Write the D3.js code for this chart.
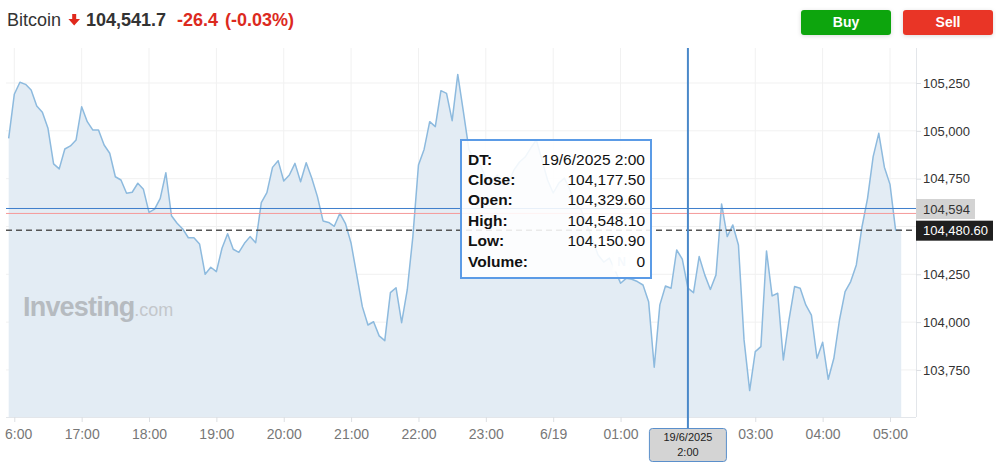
<!DOCTYPE html>
<html><head><meta charset="utf-8">
<script src="https://cdn.jsdelivr.net/npm/d3@7"></script>
<style>
body{margin:0;background:#fff;}
svg{display:block;font-family:"Liberation Sans",Arial,Helvetica,sans-serif;}
</style>
</head><body>
<svg id="c" width="996" height="473"></svg>
<script>
// ---- data ----
const instrument = "Bitcoin";
const lastPriceText = "104,541.7";
const changeText = "-26.4";
const changePctText = "(-0.03%)";
const startTime = new Date(2025, 5, 18, 15, 55);
const stepMinutes = 5;
const closes = [
 104961,105191,105254,105243,105213,105130,105097,105013,104827,104801,
 104905,104921,104952,105126,105048,105004,105004,104926,104883,104760,
 104743,104674,104679,104726,104694,104574,104591,104647,104781,104556,
 104517,104487,104441,104441,104409,104250,104287,104264,104386,104462,
 104381,104365,104412,104447,104415,104625,104677,104809,104844,104738,
 104769,104830,104734,104833,104752,104656,104529,104521,104501,104569,
 104515,104412,104247,104081,103985,104002,103928,103903,104154,104180,
 103997,104168,104447,104821,104903,105048,105022,105210,105196,105053,
 105295,105100,104900,104848,104821,104753,104733,104769,104717,104727,
 104795,104837,104863,104910,104952,104848,104743,104675,104727,104753,
 104691,104612,104586,104508,104429,104351,104314,104335,104273,104203,
 104229,104224,104212,104194,104107,103764,104090,104189,104177,104377,
 104329.6,104177.5,104154,104343,104247,104171,104247,104618,104447,104508,
 104403,103907,103642,103846,103872,104372,104137,104151,103802,104011,
 104186,104177,104090,104037,103811,103895,103701,103811,104011,104159,
 104212,104299,104496,104647,104865,104987,104810,104720,104481,104480.6
];
const xTickTimes = [
 new Date(2025,5,18,16), new Date(2025,5,18,17), new Date(2025,5,18,18), new Date(2025,5,18,19),
 new Date(2025,5,18,20), new Date(2025,5,18,21), new Date(2025,5,18,22), new Date(2025,5,18,23),
 new Date(2025,5,19,0), new Date(2025,5,19,1), new Date(2025,5,19,2), new Date(2025,5,19,3),
 new Date(2025,5,19,4), new Date(2025,5,19,5)
];
// "02:00" is covered by the crosshair date box in the original, so it is left blank
const xTickLabels = ["16:00","17:00","18:00","19:00","20:00","21:00","22:00","23:00","6/19","01:00","","03:00","04:00","05:00"];
const yTicks = [103750,104000,104250,104500,104750,105000,105250];
// 104,500 is covered by the last-price box in the original
const yTickLabels = ["103,750","104,000","104,250","","104,750","105,000","105,250"];
const bidLine = 104594;
const bidLabel = "104,594";
const prevCloseLine = 104568.1;
const lastCloseLine = 104480.6;
const lastCloseLabel = "104,480.60";
const crosshairTime = new Date(2025,5,19,2,0);
const crosshairLabel = ["19/6/2025","2:00"];
const tooltipLabels = ["DT:","Close:","Open:","High:","Low:","Volume:"];
const tooltipValues = ["19/6/2025 2:00","104,177.50","104,329.60","104,548.10","104,150.90","0"];

// ---- build ----
const svg = d3.select("#c");
const data = closes.map((v,i)=>({t:new Date(startTime.getTime()+i*stepMinutes*60000), v}));

const plotL = 6, plotR = 916, plotT = 48, plotB = 417;
const x = d3.scaleTime().domain([xTickTimes[0], xTickTimes[xTickTimes.length-1]]).range([14.3, 890]);
const y = d3.scaleLinear().domain([103504, 105433]).range([plotB, plotT]);

const defs = svg.append("defs");
const f = defs.append("filter").attr("id","sh").attr("x","-20%").attr("y","-40%").attr("width","140%").attr("height","180%");
f.append("feDropShadow").attr("dx",0).attr("dy",1).attr("stdDeviation",2).attr("flood-color","#000").attr("flood-opacity",0.15);
defs.append("clipPath").attr("id","xclip").append("rect").attr("x",5).attr("y",-10).attr("width",991).attr("height",473);

// grid
svg.append("g").selectAll("line").data(yTicks).join("line")
  .attr("x1",plotL).attr("x2",plotR).attr("y1",d=>y(d)).attr("y2",d=>y(d))
  .attr("stroke","#f1f1f1").attr("stroke-width",1);
svg.append("g").selectAll("line").data(xTickTimes).join("line")
  .attr("x1",d=>x(d)).attr("x2",d=>x(d)).attr("y1",plotT).attr("y2",plotB)
  .attr("stroke","#f1f1f1").attr("stroke-width",1);

// area + line
svg.append("path").datum(data)
  .attr("d", d3.area().x(d=>x(d.t)).y0(plotB).y1(d=>y(d.v)))
  .attr("fill","#e3ecf4");
svg.append("path").datum(data)
  .attr("d", d3.line().x(d=>x(d.t)).y(d=>y(d.v)))
  .attr("fill","none").attr("stroke","#8dbade").attr("stroke-width",1.5).attr("stroke-linejoin","round");

// watermark
const wm = svg.append("text").attr("x",23).attr("y",316);
wm.append("tspan").text("Investing").attr("font-size",27).attr("font-weight","bold").attr("fill","#b6bbc0").attr("letter-spacing",-0.8);
wm.append("tspan").text(".com").attr("font-size",18).attr("fill","#c3c7cb");

// reference lines
svg.append("line").attr("x1",plotL).attr("x2",plotR).attr("y1",y(bidLine)).attr("y2",y(bidLine))
  .attr("stroke","#3f7fcc").attr("stroke-width",1);
svg.append("line").attr("x1",plotL).attr("x2",plotR).attr("y1",y(prevCloseLine)).attr("y2",y(prevCloseLine))
  .attr("stroke","#f59a9a").attr("stroke-width",1);
svg.append("line").attr("x1",plotL).attr("x2",plotR).attr("y1",y(lastCloseLine)).attr("y2",y(lastCloseLine))
  .attr("stroke","#555").attr("stroke-width",1.4).attr("stroke-dasharray","6,4");

// borders
svg.append("line").attr("x1",plotL).attr("x2",plotR).attr("y1",plotB+0.5).attr("y2",plotB+0.5).attr("stroke","#e3e6ea");
svg.append("line").attr("x1",plotR+0.5).attr("x2",plotR+0.5).attr("y1",plotT).attr("y2",plotB).attr("stroke","#e3e6ea");

// axes
const ya = svg.append("g").attr("transform",`translate(${plotR},0)`)
  .call(d3.axisRight(y).tickValues(yTicks).tickSize(5).tickPadding(2).tickFormat((d,i)=>yTickLabels[i]));
ya.select(".domain").remove();
ya.selectAll(".tick line").attr("stroke","#dcdfe3");
ya.selectAll("text").attr("font-size",13).attr("fill","#333").attr("font-family","Liberation Sans, Arial, sans-serif");

const xa = svg.append("g").attr("transform",`translate(0,${plotB})`).attr("clip-path","url(#xclip)")
  .call(d3.axisBottom(x).tickValues(xTickTimes).tickSize(5).tickPadding(7).tickFormat((d,i)=>xTickLabels[i]));
xa.select(".domain").remove();
xa.selectAll(".tick line").attr("stroke","#dcdfe3");
xa.selectAll("text").attr("font-size",14).attr("fill","#777").attr("font-family","Liberation Sans, Arial, sans-serif");

// price labels on axis
svg.append("rect").attr("x",plotR).attr("y",y(bidLine)-9.5).attr("width",59).attr("height",20).attr("fill","#d3d3d3");
svg.append("text").attr("x",plotR+7).attr("y",y(bidLine)+0.5).attr("dy","0.35em").text(bidLabel)
  .attr("font-size",13).attr("fill","#333");
svg.append("rect").attr("x",plotR).attr("y",y(lastCloseLine)-9.5).attr("width",77).attr("height",20).attr("fill","#1f1f1f");
svg.append("text").attr("x",plotR+7).attr("y",y(lastCloseLine)+0.5).attr("dy","0.35em").text(lastCloseLabel)
  .attr("font-size",13).attr("fill","#fff");

// news marker
svg.append("rect").attr("x",613).attr("y",253).attr("width",17).attr("height",18).attr("fill","#fff").attr("stroke","#eef3f8");
svg.append("text").attr("x",621.5).attr("y",262).attr("dy","0.35em").attr("text-anchor","middle").text("N")
  .attr("font-size",12).attr("font-weight","bold").attr("fill","#a9c8e6");

// crosshair
const cx = x(crosshairTime);
svg.append("line").attr("x1",cx).attr("x2",cx).attr("y1",plotT).attr("y2",429)
  .attr("stroke","#4a88c9").attr("stroke-width",2);
svg.append("rect").attr("x",cx-38.5).attr("y",428.5).attr("width",77).attr("height",33).attr("rx",3)
  .attr("fill","#d4d4d4").attr("stroke","#5a8fcb").attr("stroke-width",1);
crosshairLabel.forEach((t,i)=>{
  svg.append("text").attr("x",cx).attr("y",437+i*15).attr("dy","0.35em").attr("text-anchor","middle")
    .text(t).attr("font-size",11).attr("fill","#222");
});

// tooltip
svg.append("rect").attr("x",461).attr("y",140).attr("width",190).attr("height",138)
  .attr("fill","#fff").attr("fill-opacity",0.88).attr("stroke","#5b9be6").attr("stroke-width",2);
tooltipLabels.forEach((t,i)=>{
  svg.append("text").attr("x",468).attr("y",164.5+i*20.4).text(t)
    .attr("font-size",15.5).attr("font-weight","bold").attr("fill","#111");
  svg.append("text").attr("x",645).attr("y",164.5+i*20.4).attr("text-anchor","end").text(tooltipValues[i])
    .attr("font-size",15.5).attr("fill","#111");
});

// header
const h = svg.append("text").attr("x",7).attr("y",25.5).attr("font-size",18);
h.append("tspan").text(instrument).attr("fill","#333");
svg.append("path").attr("d","M72.2,14 L76.2,14 L76.2,19 L80,19 L74.2,25.5 L68.4,19 L72.2,19 Z").attr("fill","#e0281c");
const h2 = svg.append("text").attr("x",86).attr("y",25.5).attr("font-size",18).attr("font-weight","bold");
h2.append("tspan").text(lastPriceText).attr("fill","#333");
h2.append("tspan").attr("x",177).text(changeText).attr("fill","#dc2a1e");
h2.append("tspan").attr("x",225).text(changePctText).attr("fill","#dc2a1e");

// buttons
svg.append("rect").attr("x",801).attr("y",10).attr("width",90).attr("height",25).attr("rx",3).attr("fill","#11a50f").attr("filter","url(#sh)");
svg.append("text").attr("x",846).attr("y",22.5).attr("dy","0.35em").attr("text-anchor","middle").text("Buy")
  .attr("font-size",14).attr("font-weight","bold").attr("fill","#fff");
svg.append("rect").attr("x",903).attr("y",10).attr("width",90).attr("height",25).attr("rx",3).attr("fill","#e93628").attr("filter","url(#sh)");
svg.append("text").attr("x",948).attr("y",22.5).attr("dy","0.35em").attr("text-anchor","middle").text("Sell")
  .attr("font-size",14).attr("font-weight","bold").attr("fill","#fff");
</script>
</body></html>
